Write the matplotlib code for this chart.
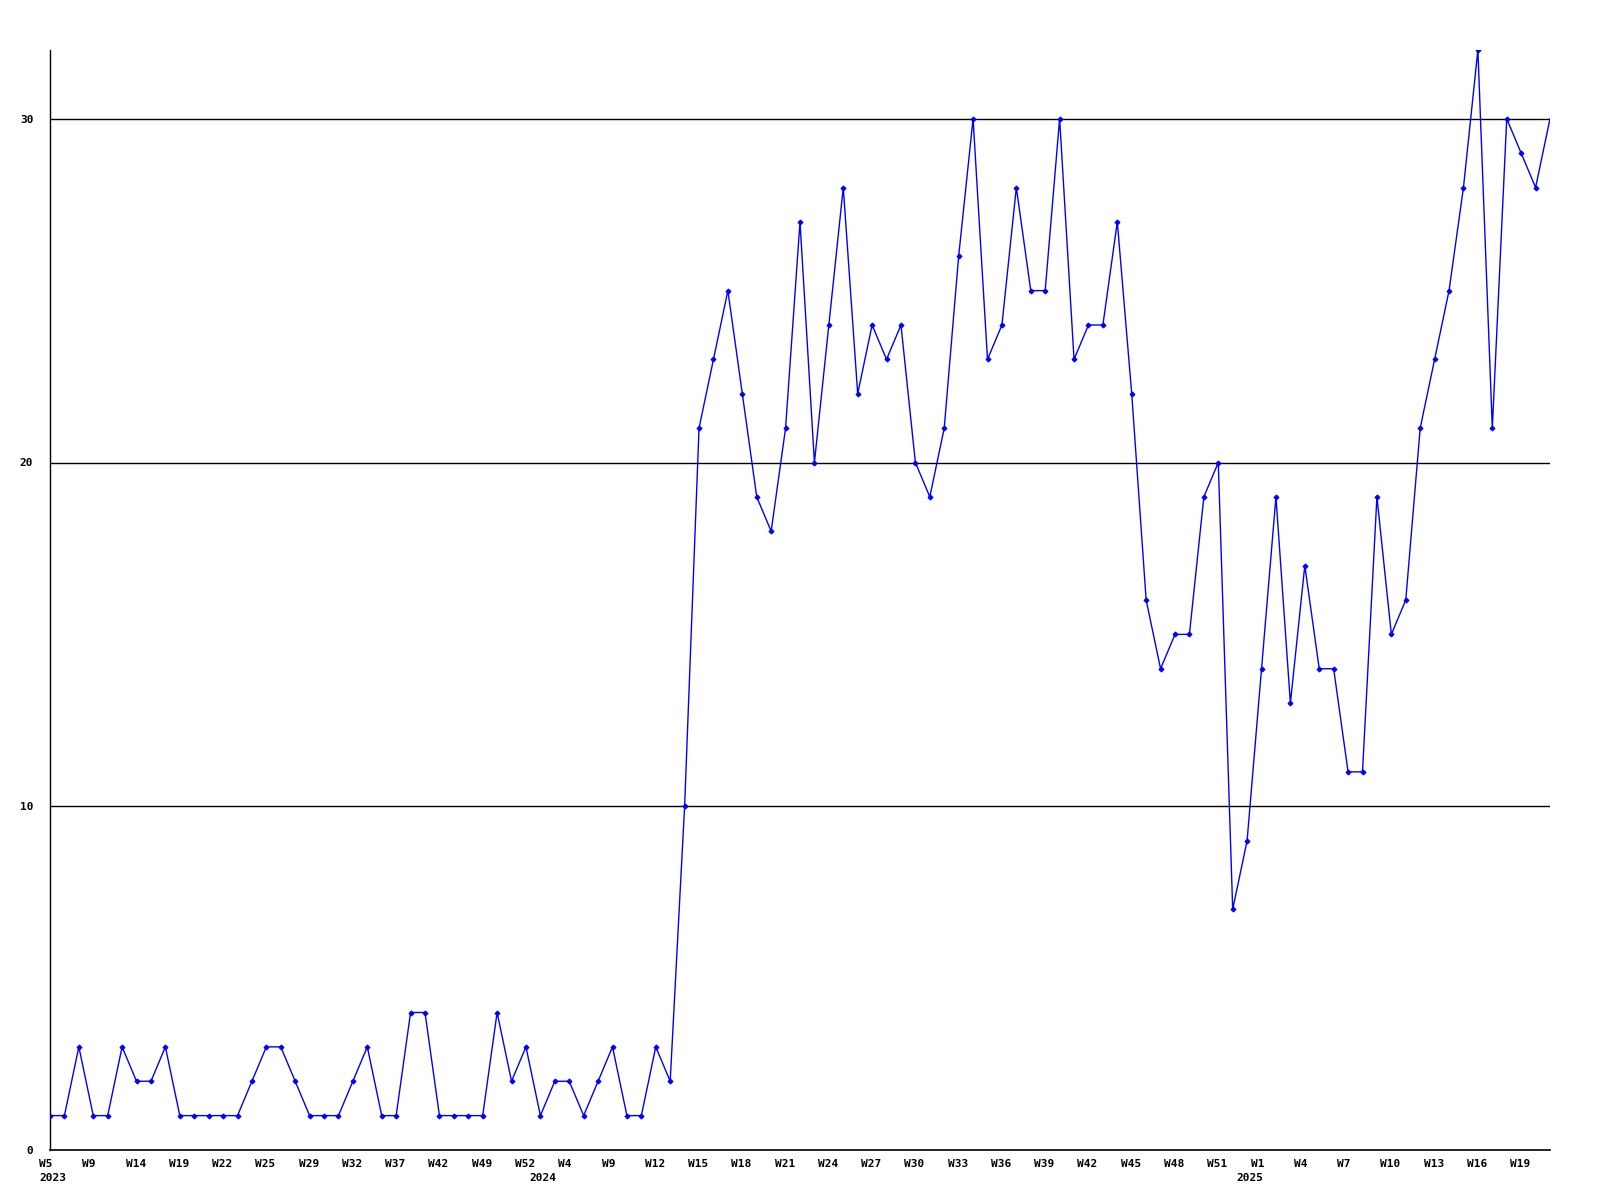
import matplotlib
matplotlib.use("Agg")
import matplotlib.pyplot as plt
import matplotlib.transforms as mtransforms

# weekly counts, 2023 W5 .. 2025 W21
values = [1, 1, 3, 1, 1, 3, 2, 2, 3, 1,
          1, 1, 1, 1, 2, 3, 3, 2, 1, 1,
          1, 2, 3, 1, 1, 4, 4, 1, 1, 1,
          1, 4, 2, 3, 1, 2, 2, 1, 2, 3,
          1, 1, 3, 2, 10, 21, 23, 25, 22, 19,
          18, 21, 27, 20, 24, 28, 22, 24, 23, 24,
          20, 19, 21, 26, 30, 23, 24, 28, 25, 25,
          30, 23, 24, 24, 27, 22, 16, 14, 15, 15,
          19, 20, 7, 9, 14, 19, 13, 17, 14, 14,
          11, 11, 19, 15, 16, 21, 23, 25, 28, 32,
          21, 30, 29, 28, 30]

# week labels, one every third point
week_pos = list(range(0, 103, 3))
week_labels = ["W5", "W9", "W14", "W19", "W22", "W25", "W29", "W32", "W37",
               "W42", "W49", "W52", "W4", "W9", "W12", "W15", "W18", "W21",
               "W24", "W27", "W30", "W33", "W36", "W39", "W42", "W45", "W48",
               "W51", "W1", "W4", "W7", "W10", "W13", "W16", "W19"]

year_pos = [0, 34, 83]
year_labels = ["2023", "2024", "2025"]

y_ticks = [0, 10, 20, 30]

font = dict(family="DejaVu Sans Mono", weight="bold", size=8)

fig = plt.figure(figsize=(16, 12), dpi=100)
ax = fig.add_axes([50 / 1600, 50 / 1200, 1500 / 1600, 1100 / 1200])

x = list(range(len(values)))
# last point is drawn without a marker, as in the original
ax.plot(x, values, color="#0000ff", linewidth=1, marker="D", markersize=2.5,
        markeredgewidth=0.8, markevery=list(range(len(values) - 1)), zorder=3)

for yv in y_ticks[1:]:
    ax.axhline(yv, color="black", linewidth=1, zorder=1)

ax.set_xlim(0, len(values) - 1)
ax.set_ylim(0, 32)

for s in ["top", "right"]:
    ax.spines[s].set_visible(False)
ax.spines["left"].set_linewidth(1)
ax.spines["bottom"].set_linewidth(1.2)

ax.set_xticks([])
ax.set_yticks(y_ticks)
ax.set_yticklabels([str(v) for v in y_ticks], **font)
ax.tick_params(axis="y", length=0, pad=12)

trans = mtransforms.blended_transform_factory(ax.transData, ax.transAxes)
wtrans = mtransforms.offset_copy(trans, fig=fig, x=-11 / 100, y=-9 / 100, units="inches")
ytrans = mtransforms.offset_copy(trans, fig=fig, x=-11 / 100, y=-23 / 100, units="inches")

for p, lab in zip(week_pos, week_labels):
    ax.text(p, 0, lab, transform=wtrans, ha="left", va="top", **font)
for p, lab in zip(year_pos, year_labels):
    ax.text(p, 0, lab, transform=ytrans, ha="left", va="top", **font)

fig.savefig("out.png", dpi=100, facecolor="white")
